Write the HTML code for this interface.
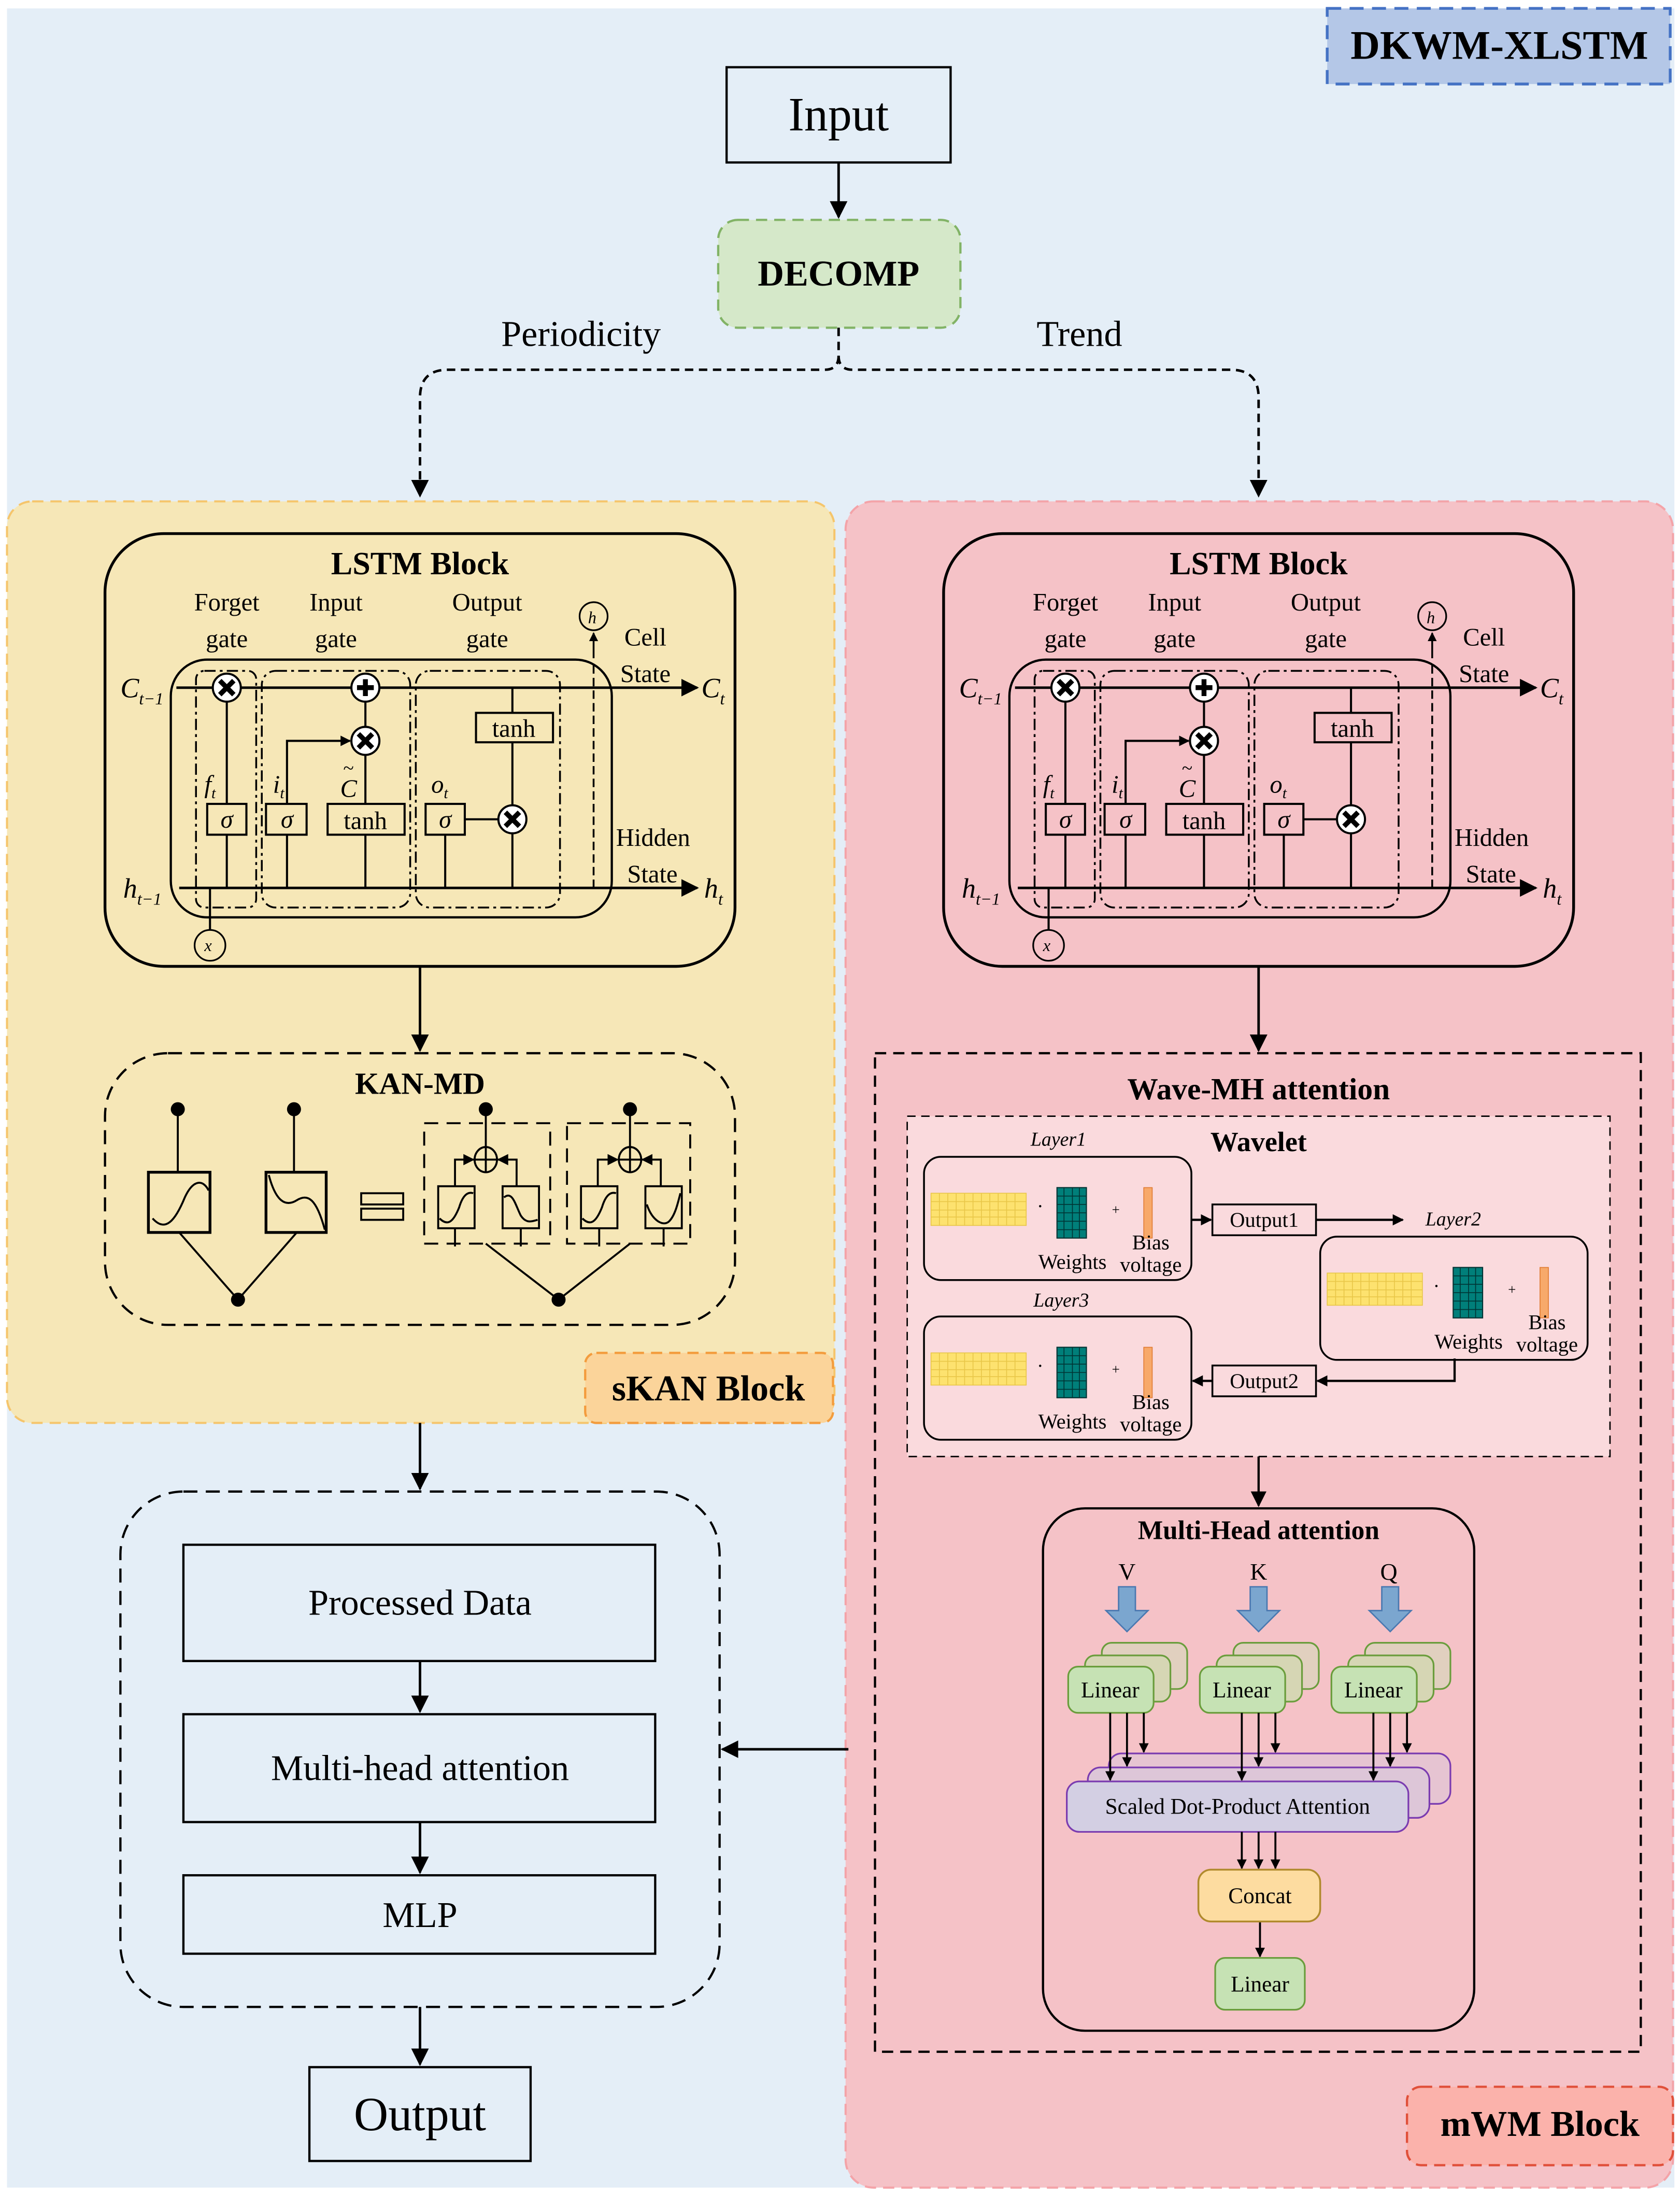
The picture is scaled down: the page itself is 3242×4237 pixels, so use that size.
<!DOCTYPE html>
<html><head><meta charset="utf-8"><style>
html,body{margin:0;padding:0;background:#fff;}
svg{display:block;}
text{font-family:"Liberation Serif","DejaVu Serif",serif;fill:#000;}
</style></head><body>
<svg width="3242" height="4237" viewBox="0 0 1200 1568" preserveAspectRatio="none" xmlns="http://www.w3.org/2000/svg">
<defs>
<marker id="a" viewBox="0 0 10 10" refX="9" refY="5" markerWidth="5" markerHeight="5" orient="auto"><path d="M0,0L10,5L0,10z" fill="#000"/></marker>
<marker id="s" viewBox="0 0 10 10" refX="9" refY="5" markerWidth="7" markerHeight="7" orient="auto"><path d="M0,0L10,5L0,10z" fill="#000"/></marker>
<g id="lstm">
  <rect x="75" y="381" width="450" height="309" rx="42" fill="none" stroke="#000" stroke-width="2"/>
  <text x="300" y="410" font-size="23" font-weight="bold" text-anchor="middle">LSTM Block</text>
  <g font-size="18" text-anchor="middle">
    <text x="162" y="436">Forget</text><text x="162" y="462">gate</text>
    <text x="240" y="436">Input</text><text x="240" y="462">gate</text>
    <text x="348" y="436">Output</text><text x="348" y="462">gate</text>
  </g>
  <g font-size="18"><text x="446" y="461">Cell</text><text x="443" y="487">State</text>
  <text x="440" y="604">Hidden</text><text x="448" y="630">State</text></g>
  <rect x="122" y="471" width="315" height="184" rx="26" fill="none" stroke="#000" stroke-width="1.6"/>
  <g fill="none" stroke="#000" stroke-width="1.3" stroke-dasharray="8,3,2,3">
    <rect x="140" y="479" width="43" height="169" rx="6"/>
    <rect x="187" y="479" width="106" height="169" rx="10"/>
    <rect x="297" y="479" width="103" height="169" rx="10"/>
  </g>
  <line x1="424" y1="634" x2="424" y2="475" stroke="#000" stroke-width="1.3" stroke-dasharray="6,3"/>
  <line x1="424" y1="470" x2="424" y2="452" stroke="#000" stroke-width="1.3" marker-end="url(#a)"/>
  <circle cx="424" cy="440" r="10" fill="none" stroke="#000" stroke-width="1.2"/>
  <text x="420" y="445" font-size="12" font-style="italic">h</text>
  <line x1="126" y1="491" x2="498" y2="491" stroke="#000" stroke-width="1.8" marker-end="url(#s)"/>
  <line x1="128" y1="634" x2="498" y2="634" stroke="#000" stroke-width="1.8" marker-end="url(#s)"/>
  <text x="86" y="498" font-size="20" font-style="italic">C<tspan font-size="12" dy="5">t−1</tspan></text>
  <text x="501" y="498" font-size="20" font-style="italic">C<tspan font-size="12" dy="5">t</tspan></text>
  <text x="88" y="641" font-size="20" font-style="italic">h<tspan font-size="12" dy="5">t−1</tspan></text>
  <text x="503" y="641" font-size="20" font-style="italic">h<tspan font-size="12" dy="5">t</tspan></text>
  <g stroke="#000" stroke-width="1.5" fill="none">
    <line x1="162" y1="491" x2="162" y2="634"/>
    <line x1="150" y1="634" x2="150" y2="664"/>
    <polyline points="205,634 205,529 250,529" marker-end="url(#a)"/>
    <line x1="261" y1="491" x2="261" y2="634"/>
    <line x1="318" y1="585" x2="318" y2="634"/>
    <line x1="332" y1="585" x2="366" y2="585"/>
    <line x1="366" y1="491" x2="366" y2="634"/>
  </g>
  <circle cx="150" cy="675" r="11" fill="none" stroke="#000" stroke-width="1.2"/>
  <text x="146" y="679" font-size="12" font-style="italic">x</text>
  <g stroke="#000" stroke-width="1.5">
    <rect x="148" y="574" width="28" height="22"/>
    <rect x="190" y="574" width="29" height="22"/>
    <rect x="234" y="574" width="55" height="22"/>
    <rect x="304" y="574" width="28" height="22"/>
    <rect x="340" y="509" width="55" height="21"/>
  </g>
  <g font-size="18" text-anchor="middle">
    <text x="162" y="591" font-style="italic">σ</text><text x="205" y="591" font-style="italic">σ</text>
    <text x="318" y="591" font-style="italic">σ</text>
    <text x="261" y="592">tanh</text><text x="367" y="526">tanh</text>
  </g>
  <g font-size="18" font-style="italic">
    <text x="146" y="566">f<tspan font-size="11" dy="4">t</tspan></text>
    <text x="195" y="566">i<tspan font-size="11" dy="4">t</tspan></text>
    <text x="243" y="569">C</text><text x="245" y="553" font-size="14">~</text>
    <text x="308" y="566">o<tspan font-size="11" dy="4">t</tspan></text>
  </g>
  <g stroke="#000" stroke-width="1.5">
    <circle cx="162" cy="491" r="10" fill="#fff"/>
    <circle cx="261" cy="491" r="10" fill="#fff"/>
    <circle cx="261" cy="529" r="10" fill="#fff"/>
    <circle cx="366" cy="585" r="10" fill="#fff"/>
  </g>
  <g stroke="#000" stroke-width="3.5">
    <path d="M157,486l10,10M167,486l-10,10"/>
    <path d="M256,524l10,10M266,524l-10,10"/>
    <path d="M361,580l10,10M371,580l-10,10"/>
    <path d="M261,485v12M255,491h12"/>
  </g>
</g>
<g id="lay">
  <rect x="0" y="0" width="191" height="88" rx="12" fill="none" stroke="#000" stroke-width="1.3"/>
  <rect x="5" y="26" width="68" height="23" fill="#fde26f" stroke="#e8c648" stroke-width="0.6"/>
  <path d="M11,26v23M17,26v23M23,26v23M29,26v23M35,26v23M41,26v23M47,26v23M53,26v23M59,26v23M65,26v23M5,32h68M5,38h68M5,43h68" stroke="#e8c648" stroke-width="0.6"/>
  <rect x="95" y="22" width="21" height="36" fill="#007f7a" stroke="#033" stroke-width="0.8"/>
  <path d="M100,22v36M106,22v36M111,22v36M95,28h21M95,34h21M95,40h21M95,46h21M95,52h21" stroke="#033" stroke-width="0.6"/>
  <text x="83" y="40" font-size="14" text-anchor="middle">·</text>
  <text x="137" y="41" font-size="10" text-anchor="middle">+</text>
  <rect x="157" y="22" width="6" height="36" fill="#f7a96a" stroke="#e07a30" stroke-width="0.6"/>
  <text x="162" y="66" font-size="15" text-anchor="middle">Bias</text>
  <text x="106" y="80" font-size="15" text-anchor="middle">Weights</text>
  <text x="162" y="82" font-size="15" text-anchor="middle">voltage</text>
</g>
<g id="lin">
  <rect x="24" y="-17" width="61" height="33" rx="7" fill="#e1d0bf" stroke="#6a9d3c" stroke-width="1.2"/>
  <rect x="12" y="-8" width="61" height="33" rx="7" fill="#d6d6b4" stroke="#6a9d3c" stroke-width="1.2"/>
  <rect x="0" y="0" width="61" height="33" rx="7" fill="#c6e2b4" stroke="#6a9d3c" stroke-width="1.2"/>
  <text x="30" y="22" font-size="16" text-anchor="middle">Linear</text>
  <path d="M36,-57h12v17h9l-15,15l-15,-15h9z" fill="#7ba6cf" stroke="#4a78b0" stroke-width="1"/>
</g>
</defs>

<rect x="0" y="0" width="1200" height="1568" fill="#fff"/>
<rect x="5" y="6" width="1191" height="1556" fill="#e4eef7"/>

<rect x="948" y="6" width="245" height="54" fill="#b4c7e7" stroke="#4472c4" stroke-width="2" stroke-dasharray="10,6"/>
<text x="1071" y="42" font-size="29" font-weight="bold" text-anchor="middle">DKWM-XLSTM</text>

<rect x="519" y="48" width="160" height="68" fill="none" stroke="#000" stroke-width="1.6"/>
<text x="599" y="93" font-size="34" text-anchor="middle">Input</text>
<line x1="599" y1="116" x2="599" y2="155" stroke="#000" stroke-width="1.8" marker-end="url(#s)"/>
<rect x="513" y="157" width="173" height="77" rx="14" fill="#d5e8c9" stroke="#82b366" stroke-width="1.6" stroke-dasharray="8,5"/>
<text x="599" y="204" font-size="26" font-weight="bold" text-anchor="middle">DECOMP</text>
<text x="415" y="247" font-size="26" text-anchor="middle">Periodicity</text>
<text x="771" y="247" font-size="26" text-anchor="middle">Trend</text>
<path d="M599,234V254Q599,264 589,264H320Q300,264 300,284V354" fill="none" stroke="#000" stroke-width="1.8" stroke-dasharray="6,4" marker-end="url(#s)"/>
<path d="M599,254Q599,264 609,264H879Q899,264 899,284V354" fill="none" stroke="#000" stroke-width="1.8" stroke-dasharray="6,4" marker-end="url(#s)"/>

<!-- yellow panel -->
<rect x="5" y="358" width="591" height="658" rx="18" fill="#f6e7b7" stroke="#f5c56c" stroke-width="1.5" stroke-dasharray="8,5"/>
<use href="#lstm" fill="#f6e7b7"/>
<line x1="300" y1="690" x2="300" y2="750" stroke="#000" stroke-width="1.8" marker-end="url(#s)"/>
<rect x="75" y="752" width="450" height="194" rx="45" fill="none" stroke="#000" stroke-width="1.6" stroke-dasharray="10,6"/>
<text x="300" y="781" font-size="22" font-weight="bold" text-anchor="middle">KAN-MD</text>
<g stroke="#000" stroke-width="1.4" fill="none">
  <line x1="127" y1="792" x2="127" y2="837"/><line x1="210" y1="792" x2="210" y2="837"/>
  <rect x="106" y="837" width="44" height="43" stroke-width="2"/><rect x="190" y="837" width="43" height="43" stroke-width="2"/>
  <path d="M109,870C118,880 125,872 132,855C138,842 145,842 149,850"/>
  <path d="M192,839C197,858 204,862 212,857C220,852 226,856 232,878"/>
  <line x1="128" y1="880" x2="170" y2="928"/><line x1="212" y1="880" x2="170" y2="928"/>
  <rect x="258" y="852" width="30" height="8"/><rect x="258" y="863" width="30" height="8"/>
  <rect x="303" y="802" width="90" height="86" stroke-dasharray="10,6"/>
  <rect x="405" y="802" width="88" height="86" stroke-dasharray="10,6"/>
  <line x1="347" y1="792" x2="347" y2="820"/><line x1="450" y1="792" x2="450" y2="820"/>
  <ellipse cx="347" cy="828" rx="8" ry="9"/><ellipse cx="450" cy="828" rx="8" ry="9"/>
  <path d="M339,828h16M347,819v18M442,828h16M450,819v18"/>
  <path d="M325,847V828h14M369,847V828h-14M427,847V828h14M472,847V828h-14"/>
  <rect x="313" y="847" width="26" height="30"/><rect x="359" y="847" width="26" height="30"/>
  <rect x="415" y="847" width="26" height="30"/><rect x="461" y="847" width="26" height="30"/>
  <path d="M314,870C320,876 324,872 328,862C331,852 335,851 338,852"/>
  <path d="M360,855C366,850 368,860 372,868C376,874 380,872 384,871"/>
  <path d="M416,870C422,876 426,872 430,862C433,852 437,851 440,852"/>
  <path d="M462,860C466,872 474,876 478,872C482,868 484,860 486,852"/>
  <path d="M325,877v13M372,877v13M428,877v13M474,877v13"/>
  <line x1="347" y1="888" x2="399" y2="928"/><line x1="450" y1="888" x2="399" y2="928"/>
</g>
<g fill="#000"><circle cx="127" cy="792" r="5"/><circle cx="210" cy="792" r="5"/><circle cx="347" cy="792" r="5"/><circle cx="450" cy="792" r="5"/><circle cx="170" cy="928" r="5"/><circle cx="399" cy="928" r="5"/>
<path d="M331,824l8,4l-8,4zM363,824l-8,4l8,4zM434,824l8,4l-8,4zM466,824l-8,4l8,4z"/></g>
<rect x="418" y="966" width="177" height="50" rx="8" fill="#fbd49a" stroke="#f39c3d" stroke-width="1.6" stroke-dasharray="8,5"/>
<text x="506" y="1000" font-size="26" font-weight="bold" text-anchor="middle">sKAN Block</text>

<!-- pink panel -->
<rect x="604" y="358" width="591" height="1204" rx="20" fill="#f5c2c7" stroke="#f4a3a8" stroke-width="1.5" stroke-dasharray="8,5"/>
<use href="#lstm" x="599" fill="#f5c2c7"/>
<line x1="899" y1="690" x2="899" y2="750" stroke="#000" stroke-width="1.8" marker-end="url(#s)"/>
<rect x="625" y="752" width="547" height="713" fill="none" stroke="#000" stroke-width="1.6" stroke-dasharray="8,5"/>
<text x="899" y="785" font-size="22" font-weight="bold" text-anchor="middle">Wave-MH attention</text>
<rect x="648" y="797" width="502" height="243" fill="#fadadd" stroke="#000" stroke-width="1" stroke-dasharray="6,4"/>
<text x="899" y="822" font-size="20" font-weight="bold" text-anchor="middle">Wavelet</text>
<text x="756" y="818" font-size="14" font-style="italic" text-anchor="middle">Layer1</text>
<text x="1038" y="875" font-size="14" font-style="italic" text-anchor="middle">Layer2</text>
<text x="758" y="933" font-size="14" font-style="italic" text-anchor="middle">Layer3</text>
<use href="#lay" x="660" y="826"/>
<use href="#lay" x="943" y="883"/>
<use href="#lay" x="660" y="940"/>
<rect x="866" y="860" width="74" height="22" fill="none" stroke="#000" stroke-width="1.3"/>
<text x="903" y="876" font-size="15" text-anchor="middle">Output1</text>
<rect x="866" y="975" width="74" height="22" fill="none" stroke="#000" stroke-width="1.3"/>
<text x="903" y="991" font-size="15" text-anchor="middle">Output2</text>
<g stroke="#000" stroke-width="1.6" fill="none">
  <line x1="851" y1="871" x2="865" y2="871" marker-end="url(#a)"/>
  <line x1="940" y1="871" x2="1002" y2="871" marker-end="url(#a)"/>
  <polyline points="1039,970 1039,986 941,986" marker-end="url(#a)"/>
  <line x1="866" y1="986" x2="852" y2="986" marker-end="url(#a)"/>
  <line x1="899" y1="1040" x2="899" y2="1075" marker-end="url(#s)"/>
</g>
<rect x="745" y="1077" width="308" height="373" rx="30" fill="none" stroke="#000" stroke-width="1.6"/>
<text x="899" y="1099" font-size="19" font-weight="bold" text-anchor="middle">Multi-Head attention</text>
<g font-size="17" text-anchor="middle"><text x="805" y="1128">V</text><text x="899" y="1128">K</text><text x="992" y="1128">Q</text></g>
<use href="#lin" x="763" y="1190"/><use href="#lin" x="857" y="1190"/><use href="#lin" x="951" y="1190"/>
<rect x="792" y="1252" width="244" height="36" rx="9" fill="#e6c4d2" stroke="#7a3bb0" stroke-width="1.2"/>
<rect x="777" y="1262" width="244" height="36" rx="9" fill="#ddc6d8" stroke="#7a3bb0" stroke-width="1.2"/>
<rect x="762" y="1272" width="244" height="36" rx="9" fill="#d3cfe3" stroke="#7a3bb0" stroke-width="1.2"/>
<text x="884" y="1295" font-size="16" text-anchor="middle">Scaled Dot-Product Attention</text>
<g stroke="#000" stroke-width="1.4" fill="none" marker-end="url(#a)">
  <line x1="793" y1="1223" x2="793" y2="1271"/><line x1="805" y1="1223" x2="805" y2="1261"/><line x1="817" y1="1223" x2="817" y2="1251"/>
  <line x1="887" y1="1223" x2="887" y2="1271"/><line x1="899" y1="1223" x2="899" y2="1261"/><line x1="911" y1="1223" x2="911" y2="1251"/>
  <line x1="981" y1="1223" x2="981" y2="1271"/><line x1="993" y1="1223" x2="993" y2="1261"/><line x1="1005" y1="1223" x2="1005" y2="1251"/>
  <line x1="887" y1="1308" x2="887" y2="1334"/><line x1="899" y1="1308" x2="899" y2="1334"/><line x1="911" y1="1308" x2="911" y2="1334"/>
  <line x1="900" y1="1372" x2="900" y2="1397"/>
</g>
<rect x="856" y="1335" width="87" height="37" rx="9" fill="#fddca0" stroke="#b08a2c" stroke-width="1.3"/>
<text x="900" y="1359" font-size="16" text-anchor="middle">Concat</text>
<rect x="868" y="1398" width="64" height="37" rx="7" fill="#c6e2b4" stroke="#6a9d3c" stroke-width="1.2"/>
<text x="900" y="1422" font-size="16" text-anchor="middle">Linear</text>
<rect x="1005" y="1490" width="190" height="56" rx="10" fill="#fbb2ab" stroke="#e0503a" stroke-width="1.6" stroke-dasharray="8,5"/>
<text x="1100" y="1525" font-size="26" font-weight="bold" text-anchor="middle">mWM Block</text>

<!-- bottom-left -->
<line x1="300" y1="1016" x2="300" y2="1063" stroke="#000" stroke-width="1.8" marker-end="url(#s)"/>
<rect x="86" y="1065" width="428" height="368" rx="45" fill="none" stroke="#000" stroke-width="1.6" stroke-dasharray="10,6"/>
<rect x="131" y="1103" width="337" height="83" fill="none" stroke="#000" stroke-width="1.6"/>
<text x="300" y="1153" font-size="26" text-anchor="middle">Processed Data</text>
<rect x="131" y="1224" width="337" height="77" fill="none" stroke="#000" stroke-width="1.6"/>
<text x="300" y="1271" font-size="26" text-anchor="middle">Multi-head attention</text>
<rect x="131" y="1339" width="337" height="56" fill="none" stroke="#000" stroke-width="1.6"/>
<text x="300" y="1376" font-size="26" text-anchor="middle">MLP</text>
<g stroke="#000" stroke-width="1.8" marker-end="url(#s)">
  <line x1="300" y1="1186" x2="300" y2="1222"/><line x1="300" y1="1301" x2="300" y2="1337"/>
  <line x1="300" y1="1433" x2="300" y2="1474"/><line x1="606" y1="1249" x2="516" y2="1249"/>
</g>
<rect x="221" y="1476" width="158" height="67" fill="none" stroke="#000" stroke-width="1.6"/>
<text x="300" y="1521" font-size="34" text-anchor="middle">Output</text>
</svg>
</body></html>
